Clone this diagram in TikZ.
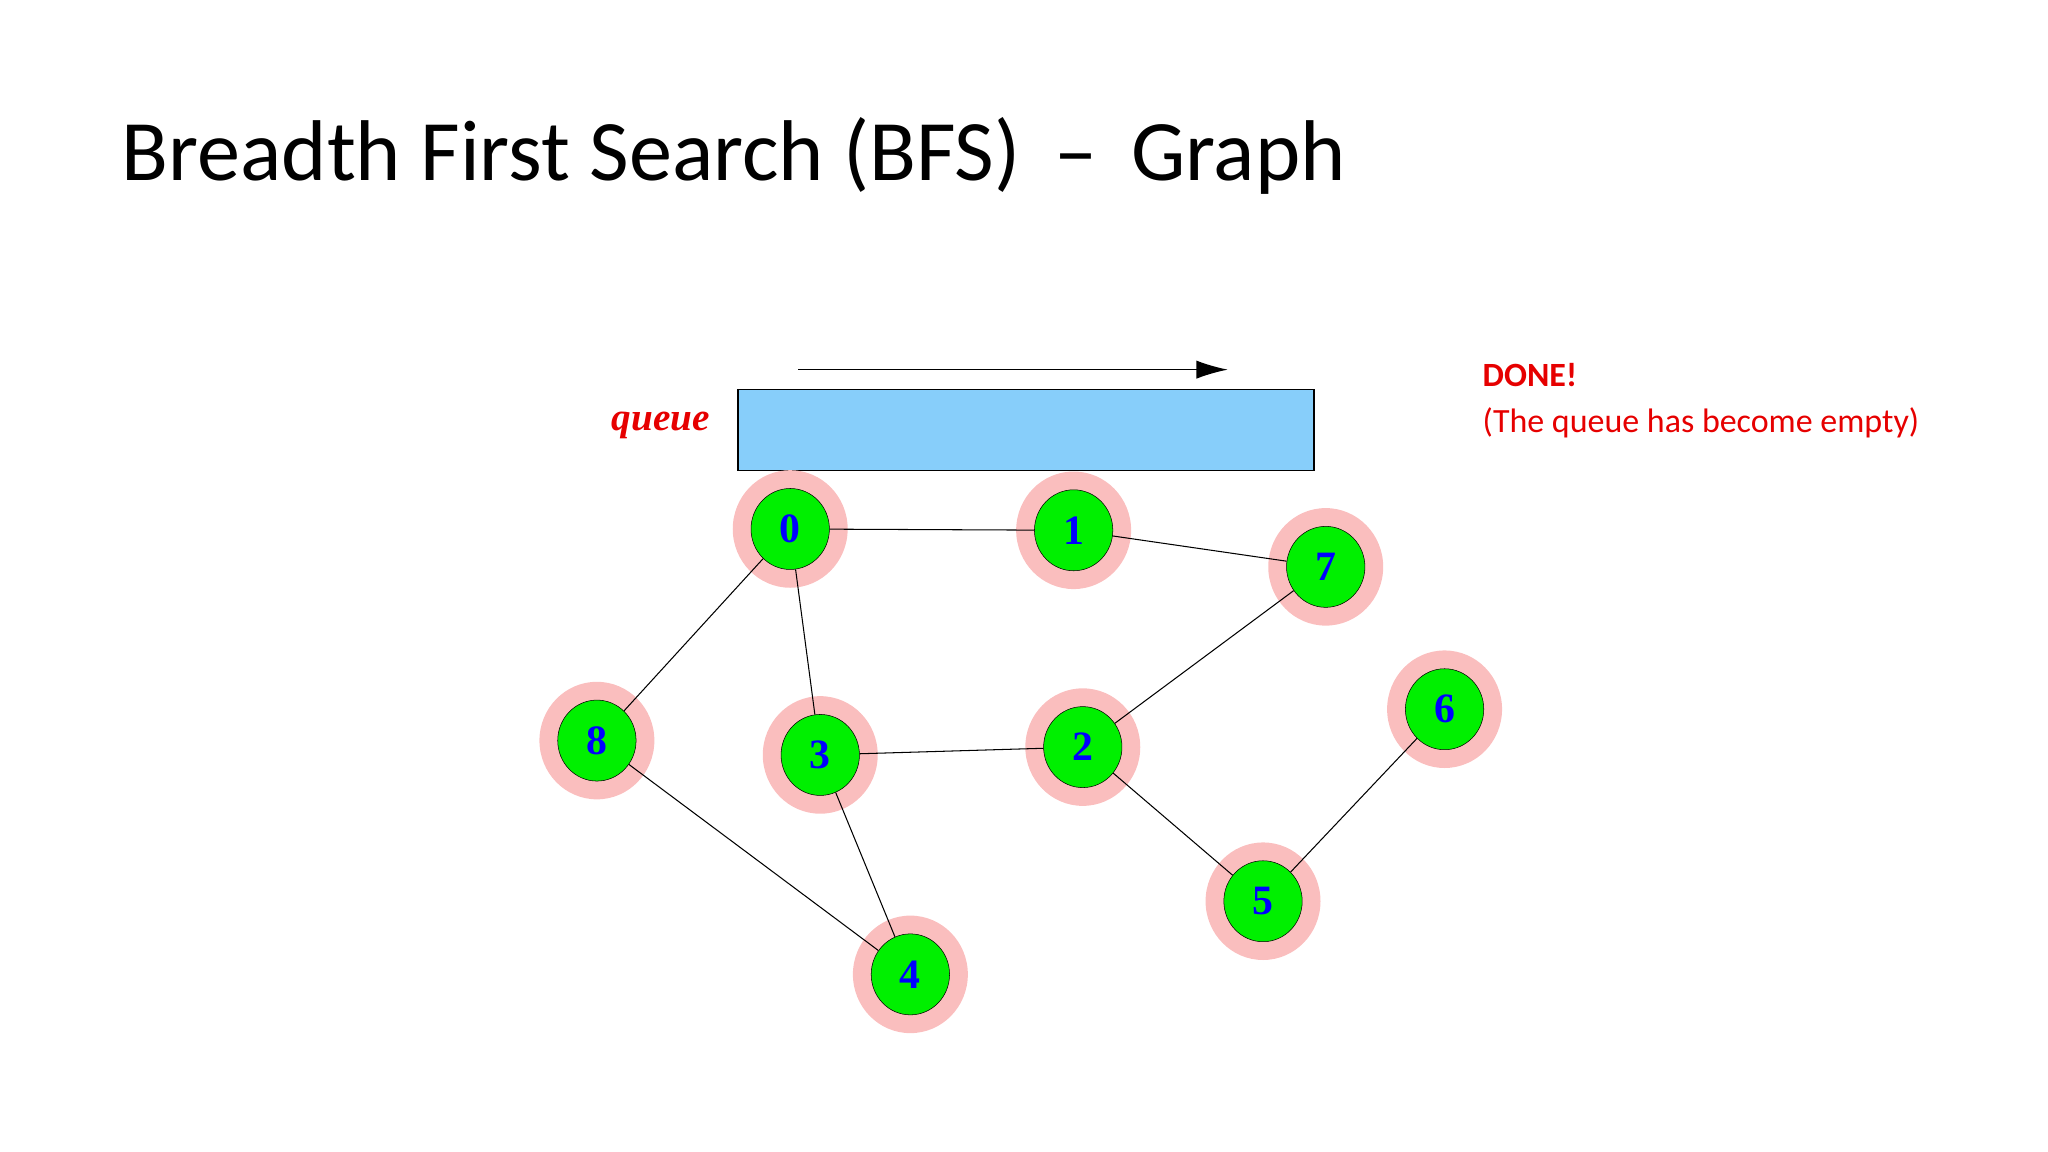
\documentclass[tikz,border=0pt]{standalone}
\usepackage{fontspec}
\setmainfont{Carlito}
\newfontfamily\serifx{Liberation Serif}
\usetikzlibrary{arrows.meta,shapes.geometric}
\definecolor{halo}{RGB}{250,190,190}
\definecolor{ngreen}{RGB}{0,240,0}
\definecolor{qblue}{RGB}{135,206,250}
\definecolor{dred}{RGB}{230,0,0}
\begin{document}
\begin{tikzpicture}[x=1pt,y=-1pt,
  vert/.style={ellipse,draw=black,fill=ngreen,minimum width=60pt,minimum height=62pt,inner sep=0pt,font=\serifx\bfseries\fontsize{32}{32}\selectfont,text=blue},
  edge/.style={draw=black,line width=0.8pt}]
\useasboundingbox (0,0) rectangle (1568,882);
\node[anchor=base west,font=\fontsize{66}{66}\selectfont,inner sep=0] (title) at (93,138) {Breadth First Search (BFS) \,–\, Graph};
\draw[line width=1pt,-{Latex[length=24pt,width=14pt]}] (611,283) coordinate (as) -- (940,283) coordinate (ae);
\node[draw=black,line width=1pt,fill=qblue,minimum width=441pt,minimum height=62pt,inner sep=0] (q) at (785.5,329) {};
\node[font=\serifx\bfseries\itshape\fontsize{30}{30}\selectfont,text=dred] (ql) at (506,326) {queue};
\node[anchor=base west,font=\bfseries\fontsize{26}{26}\selectfont,text=dred,inner sep=0] (done) at (1135,296) {DONE!};
\node[anchor=base west,font=\fontsize{26}{26}\selectfont,text=dred,inner sep=0] (msg) at (1135,331) {(The queue has become empty)};
\foreach \n/\x/\y in {0/605/405,1/822/406,7/1015/434,8/457/567,3/628/578,2/829/572,6/1106/543,5/967/690,4/697/746}{
  \fill[halo] (\x,\y) ellipse (44pt and 45pt);
}
\foreach \n/\x/\y in {0/605/405,1/822/406,7/1015/434,8/457/567,3/628/578,2/829/572,6/1106/543,5/967/690,4/697/746}{
  \node[vert] (v\n) at (\x,\y) {\n};
}
\begin{scope}[on background layer/.style={}]
\end{scope}
\foreach \a/\b in {0/1,1/7,0/8,0/3,7/2,3/2,8/4,3/4,2/5,6/5}{
  \draw[edge] (v\a) -- (v\b);
}
\end{tikzpicture}
\end{document}
